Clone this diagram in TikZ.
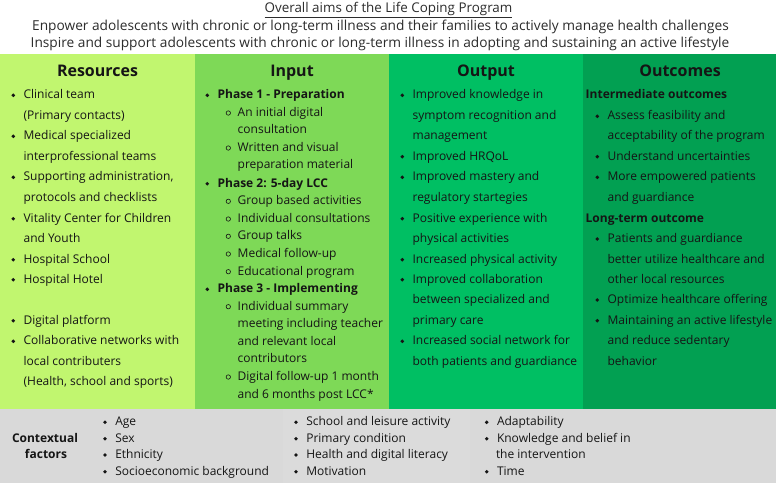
\documentclass[tikz,border=0pt]{standalone}
\usepackage{fontspec}
\setmainfont{Open Sans}
\definecolor{cres}{HTML}{C1F66F}
\definecolor{cinp}{HTML}{7ED957}
\definecolor{cout}{HTML}{00BF63}
\definecolor{cocm}{HTML}{02A052}
\definecolor{cgrayA}{HTML}{D9D9D9}
\definecolor{cgrayB}{HTML}{DBDBDB}
\definecolor{ink}{HTML}{151515}
\tikzset{
  colbox/.style={draw=none,inner sep=0,outer sep=0,anchor=north west},
  txt/.style={anchor=base west,inner sep=0,outer sep=0,text=ink,font=\fontsize{12}{14}\selectfont},
  btxt/.style={txt,font=\fontsize{12}{14}\selectfont\bfseries},
  hdr/.style={anchor=base,inner sep=0,text=ink,font=\fontsize{16}{18}\selectfont\bfseries},
  aim/.style={anchor=base,inner sep=0,text=ink!90,font=\fontsize{13.7}{16}\selectfont},
  aimtitle/.style={aim,font=\fontsize{13.4}{16}\selectfont},
}
% bullet item: name, bullet x, center y, text
\newcommand\bitem[4]{\fill[ink] (#2,#3+1) circle (1.9);
  \node[txt] (#1) at (#2+10.3,#3+4.3) {#4};}
\newcommand\bbitem[4]{\fill[ink] (#2,#3+1) circle (1.9);
  \node[btxt] (#1) at (#2+10.3,#3+4.3) {#4};}
\newcommand\sitem[4]{\draw[ink,line width=0.6pt] (#2,#3+1) circle (2.2);
  \node[txt] (#1) at (#2+9.4,#3+4.3) {#4};}
% continuation line: name, text x, center y, text
\newcommand\contline[4]{\node[txt] (#1) at (#2,#3+4.3) {#4};}
\begin{document}
\begin{tikzpicture}[x=1pt,y=-1pt]
\useasboundingbox (0,0) rectangle (778,485);
\fill[white] (0,0) rectangle (778,485);
% column boxes
\node[colbox,fill=cres,minimum width=195pt,minimum height=355pt] (res) at (0,54) {};
\node[colbox,fill=cinp,minimum width=194pt,minimum height=355pt] (inp) at (195,54) {};
\node[colbox,fill=cout,minimum width=194pt,minimum height=355pt] (out) at (389,54) {};
\node[colbox,fill=cocm,minimum width=193pt,minimum height=355pt] (ocm) at (583,54) {};
\node[colbox,fill=cgrayA,minimum width=283pt,minimum height=73.5pt] (ctx) at (0,409) {};
\node[colbox,fill=cgrayB,minimum width=187pt,minimum height=73.5pt] (ctx2) at (283,409) {};
\node[colbox,fill=cgrayA,minimum width=306pt,minimum height=73.5pt] (ctx3) at (470,409) {};
% aims
\node[aimtitle] (title) at (388.5,12.5) {\underline{Overall aims of the Life Coping Program}};
\node[aim] (aim1) at (380.5,30) {Enpower adolescents with chronic or long-term illness and their families to actively manage health challenges};
\node[aim] (aim2) at (380,47.5) {Inspire and support adolescents with chronic or long-term illness in adopting and sustaining an active lifestyle};
% headers
\node[hdr] (hres) at (97.5,76.5) {Resources};
\node[hdr] (hinp) at (292,76.5) {Input};
\node[hdr] (hout) at (486,76.5) {Output};
\node[hdr] (hocm) at (680,76.5) {Outcomes};
% Resources
\bitem{r1}{13.3}{94.3}{Clinical team}
\contline{r1b}{23.6}{115.3}{(Primary contacts)}
\bitem{r2}{13.3}{135.3}{Medical specialized}
\contline{r2b}{23.6}{155.7}{interprofessional teams}
\bitem{r3}{13.3}{176.3}{Supporting administration,}
\contline{r3b}{23.6}{196.7}{protocols and checklists}
\bitem{r4}{13.3}{217.7}{Vitality Center for Children}
\contline{r4b}{23.6}{237.7}{and Youth}
\bitem{r5}{13.3}{258.7}{Hospital School}
\bitem{r6}{13.3}{278.7}{Hospital Hotel}
\bitem{r7}{13.3}{319.7}{Digital platform}
\bitem{r8}{13.3}{340.3}{Collaborative networks with}
\contline{r8b}{23.6}{360.7}{local contributers}
\contline{r8c}{23.6}{381.3}{(Health, school and sports)}
% Input
\bbitem{p1}{207.3}{94.3}{Phase 1 - Preparation}
\sitem{p1a}{228.3}{112}{An initial digital}
\contline{p1ab}{237.7}{129.3}{consultation}
\sitem{p1b}{228.3}{147}{Written and visual}
\contline{p1bb}{237.7}{164.3}{preparation material}
\bbitem{p2}{207.3}{182.7}{Phase 2: 5-day LCC}
\sitem{p2a}{228.3}{200.3}{Group based activities}
\sitem{p2b}{228.3}{218}{Individual consultations}
\sitem{p2c}{228.3}{235.3}{Group talks}
\sitem{p2d}{228.3}{253}{Medical follow-up}
\sitem{p2e}{228.3}{270.7}{Educational program}
\bbitem{p3}{207.3}{288.3}{Phase 3 - Implementing}
\sitem{p3a}{228.3}{305.7}{Individual summary}
\contline{p3ab}{237.7}{323.3}{meeting including teacher}
\contline{p3ac}{237.7}{340.7}{and relevant local}
\contline{p3ad}{237.7}{358.3}{contributors}
\sitem{p3b}{228.3}{376}{Digital follow-up 1 month}
\contline{p3bb}{237.7}{394}{and 6 months post LCC*}
% Output
\bitem{o1}{402.3}{94.3}{Improved knowledge in}
\contline{o1b}{412.6}{115.3}{symptom recognition and}
\contline{o1c}{412.6}{135.3}{management}
\bitem{o2}{402.3}{155.7}{Improved HRQoL}
\bitem{o3}{402.3}{176.3}{Improved mastery and}
\contline{o3b}{412.6}{196.7}{regulatory startegies}
\bitem{o4}{402.3}{217.7}{Positive experience with}
\contline{o4b}{412.6}{238}{physical activities}
\bitem{o5}{402.3}{258.7}{Increased physical activity}
\bitem{o6}{402.3}{278.7}{Improved collaboration}
\contline{o6b}{412.6}{299}{between specialized and}
\contline{o6c}{412.6}{319.7}{primary care}
\bitem{o7}{402.3}{340.3}{Increased social network for}
\contline{o7b}{412.6}{360.7}{both patients and guardiance}
% Outcomes
\node[btxt] (im) at (585.7,98.6) {Intermediate outcomes};
\bitem{u1}{597.3}{115.3}{Assess feasibility and}
\contline{u1b}{607.6}{135.3}{acceptability of the program}
\bitem{u2}{597.3}{155.7}{Understand uncertainties}
\bitem{u3}{597.3}{176.3}{More empowered patients}
\contline{u3b}{607.6}{196.7}{and guardiance}
\node[btxt] (lt) at (585.7,222) {Long-term outcome};
\bitem{v1}{597.3}{238}{Patients and guardiance}
\contline{v1b}{607.6}{258.7}{better utilize healthcare and}
\contline{v1c}{607.6}{278.7}{other local resources}
\bitem{v2}{597.3}{299}{Optimize healthcare offering}
\bitem{v3}{597.3}{319.7}{Maintaining an active lifestyle}
\contline{v3b}{607.6}{340.3}{and reduce sedentary}
\contline{v3c}{607.6}{360.7}{behavior}
% Contextual factors
\node[btxt,anchor=base] (cf1) at (45,442) {Contextual};
\node[btxt,anchor=base] (cf2) at (46,458.6) {factors};
\bitem{c1}{105}{421.3}{Age}
\bitem{c2}{105}{437.7}{Sex}
\bitem{c3}{105}{454}{Ethnicity}
\bitem{c4}{105}{470.7}{Socioeconomic background}
\bitem{d1}{296}{421.3}{School and leisure activity}
\bitem{d2}{296}{437.7}{Primary condition}
\bitem{d3}{296}{454}{Health and digital literacy}
\bitem{d4}{296}{470.7}{Motivation}
\bitem{e1}{486.7}{421.3}{Adaptability}
\bitem{e2}{486.7}{437.7}{Knowledge and belief in}
\contline{e2b}{496}{454}{the intervention}
\bitem{e3}{486.7}{470.7}{Time}
\end{tikzpicture}
\end{document}
